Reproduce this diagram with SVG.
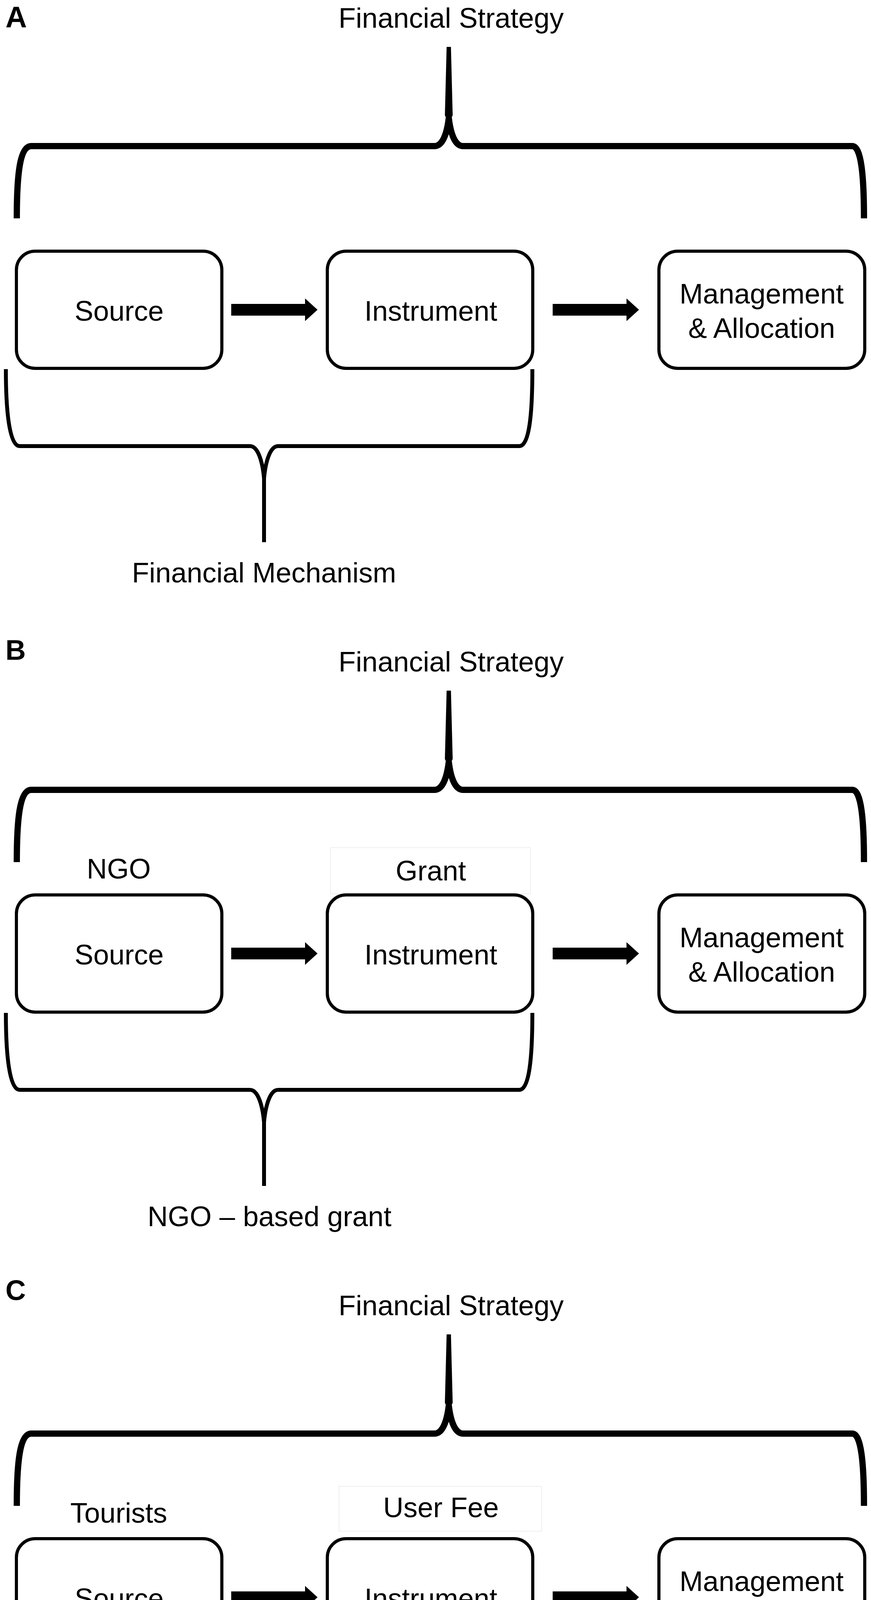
<svg xmlns="http://www.w3.org/2000/svg" width="2230" height="4813" viewBox="0 0 2230 4813">
<style>
  text { font-family: "Liberation Sans", Arial, sans-serif; fill: #000; }
  .lbl { font-size: 72px; text-anchor: middle; }
  .panel { font-size: 76px; font-weight: bold; }
  .box { fill: #fff; stroke: #000; stroke-width: 8; }
  .brace-top { fill: none; stroke: #000; stroke-width: 16; stroke-linecap: butt; stroke-linejoin: round; }
  .brace-bot { fill: none; stroke: #000; stroke-width: 10; stroke-linecap: butt; stroke-linejoin: round; }
  .arrow { fill: #000; stroke: none; }
  .faint { fill: none; stroke: #efefef; stroke-width: 2; }
</style>
<defs>
  <g id="arrowShape">
    <rect x="0" y="-15" width="192" height="30"/>
    <polygon points="189,-29 221,0 189,29"/>
  </g>
</defs>
<rect width="2230" height="4813" fill="#fff"/>

<!-- ================= PANEL A ================= -->
<g id="panel-a">
  <text class="panel" x="14" y="70">A</text>
  <text class="lbl" x="1155" y="71">Financial Strategy</text>
  <g id="a-brace-top">
    <path class="brace-top" d="M43,559 C43,450 50,374 80,374 L1112,374 C1132,374 1144,345 1149,302"/>
    <path class="brace-top" d="M1149,302 C1154,345 1166,374 1186,374 L2182,374 C2205,374 2212,450 2212,559"/>
    <polygon fill="#000" points="1143.5,120 1154.5,120 1159,295 1149,318 1139,295"/>
  </g>
  <g id="a-source"><rect class="box" x="42" y="643" width="526" height="300" rx="48"/><text class="lbl" x="305" y="821">Source</text></g>
  <g id="a-instrument"><rect class="box" x="838" y="643" width="526" height="300" rx="48"/><text class="lbl" x="1103" y="821">Instrument</text></g>
  <g id="a-management"><rect class="box" x="1687" y="643" width="527" height="300" rx="48"/><text class="lbl" x="1950" y="777">Management</text><text class="lbl" x="1950" y="865">&amp; Allocation</text></g>
  <g id="a-brace-bottom">
    <path class="brace-bot" d="M15,945 C15,1060 25,1142 50,1142 L640,1142 C660,1142 672,1180 676,1225"/>
    <path class="brace-bot" d="M676,1225 C680,1180 692,1142 712,1142 L1330,1142 C1355,1142 1363,1060 1363,945"/>
    <line x1="676" y1="1208" x2="676" y2="1388" stroke="#000" stroke-width="10"/>
  </g>
  <text class="lbl" x="676" y="1491">Financial Mechanism</text>
</g>

<!-- ================= PANEL B ================= -->
<g id="panel-b">
  <text class="panel" x="14" y="1689" style="font-size:72px">B</text>
  <g transform="translate(0,1648)">
    <text class="lbl" x="1155" y="71">Financial Strategy</text>
    <g id="b-brace-top">
      <path class="brace-top" d="M43,559 C43,450 50,374 80,374 L1112,374 C1132,374 1144,345 1149,302"/>
      <path class="brace-top" d="M1149,302 C1154,345 1166,374 1186,374 L2182,374 C2205,374 2212,450 2212,559"/>
      <polygon fill="#000" points="1143.5,120 1154.5,120 1159,295 1149,318 1139,295"/>
    </g>
    <text class="lbl" x="304" y="601">NGO</text>
    <rect class="faint" x="846" y="522" width="512" height="118"/>
    <text class="lbl" x="1103" y="606">Grant</text>
    <g id="b-source"><rect class="box" x="42" y="643" width="526" height="300" rx="48"/><text class="lbl" x="305" y="821">Source</text></g>
    <g id="b-instrument"><rect class="box" x="838" y="643" width="526" height="300" rx="48"/><text class="lbl" x="1103" y="821">Instrument</text></g>
    <g id="b-management"><rect class="box" x="1687" y="643" width="527" height="300" rx="48"/><text class="lbl" x="1950" y="777">Management</text><text class="lbl" x="1950" y="865">&amp; Allocation</text></g>
    <g id="b-brace-bottom">
      <path class="brace-bot" d="M15,945 C15,1060 25,1142 50,1142 L640,1142 C660,1142 672,1180 676,1225"/>
      <path class="brace-bot" d="M676,1225 C680,1180 692,1142 712,1142 L1330,1142 C1355,1142 1363,1060 1363,945"/>
      <line x1="676" y1="1208" x2="676" y2="1388" stroke="#000" stroke-width="10"/>
    </g>
    <text class="lbl" x="690" y="1491">NGO – based grant</text>
  </g>
</g>

<!-- ================= PANEL C ================= -->
<g id="panel-c">
  <text class="panel" x="14" y="3328" style="font-size:72px">C</text>
  <g transform="translate(0,3296)">
    <text class="lbl" x="1155" y="71">Financial Strategy</text>
    <g id="c-brace-top">
      <path class="brace-top" d="M43,559 C43,450 50,374 80,374 L1112,374 C1132,374 1144,345 1149,302"/>
      <path class="brace-top" d="M1149,302 C1154,345 1166,374 1186,374 L2182,374 C2205,374 2212,450 2212,559"/>
      <polygon fill="#000" points="1143.5,120 1154.5,120 1159,295 1149,318 1139,295"/>
    </g>
    <text class="lbl" x="304" y="602">Tourists</text>
    <rect class="faint" x="868" y="509" width="519" height="115"/>
    <text class="lbl" x="1129" y="588">User Fee</text>
    <g id="c-source"><rect class="box" x="42" y="643" width="526" height="300" rx="48"/><text class="lbl" x="305" y="821">Source</text></g>
    <g id="c-instrument"><rect class="box" x="838" y="643" width="526" height="300" rx="48"/><text class="lbl" x="1103" y="821">Instrument</text></g>
    <g id="c-management"><rect class="box" x="1687" y="643" width="527" height="300" rx="48"/><text class="lbl" x="1950" y="777">Management</text><text class="lbl" x="1950" y="865">&amp; Allocation</text></g>
    <g id="c-brace-bottom">
      <path class="brace-bot" d="M15,945 C15,1060 25,1142 50,1142 L640,1142 C660,1142 672,1180 676,1225"/>
      <path class="brace-bot" d="M676,1225 C680,1180 692,1142 712,1142 L1330,1142 C1355,1142 1363,1060 1363,945"/>
      <line x1="676" y1="1208" x2="676" y2="1388" stroke="#000" stroke-width="10"/>
    </g>
    <text class="lbl" x="715" y="1494">Tourist entry/activity fee</text>
  </g>
</g>

<!-- ================= CONNECTORS ================= -->
<g id="connectors" class="arrow">
  <use href="#arrowShape" transform="translate(592,793)"/>
  <use href="#arrowShape" transform="translate(1415,793)"/>
  <use href="#arrowShape" transform="translate(592,2441)"/>
  <use href="#arrowShape" transform="translate(1415,2441)"/>
  <use href="#arrowShape" transform="translate(592,4089)"/>
  <use href="#arrowShape" transform="translate(1415,4089)"/>
</g>
</svg>
